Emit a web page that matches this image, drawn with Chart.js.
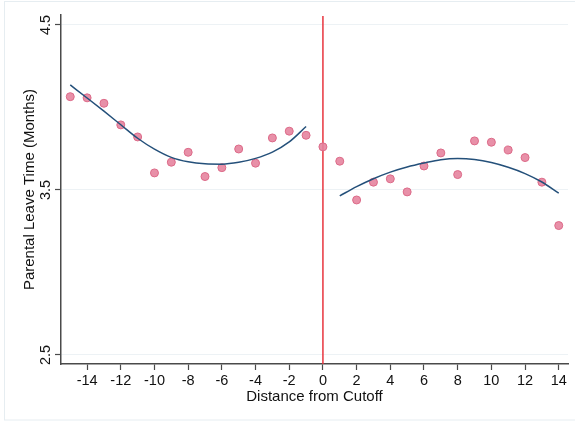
<!DOCTYPE html>
<html>
<head>
<meta charset="utf-8">
<script src="https://cdn.jsdelivr.net/npm/chart.js@4.4.1/dist/chart.umd.min.js"></script>
<style>
  html, body { margin: 0; padding: 0; background: #fff; }
  #wrap { width: 575px; height: 421px; position: relative; }
</style>
</head>
<body>
<div id="wrap"><canvas id="rdChart"></canvas></div>
<script>
// Binned means, distance -15..14
const distance = [-15, -14, -13, -12, -11, -10, -9, -8, -7, -6, -5, -4, -3, -2, -1,
                  0, 1, 2, 3, 4, 5, 6, 7, 8, 9, 10, 11, 12, 13, 14];
const leaveMeans = [4.065, 4.058, 4.025, 3.894, 3.821, 3.603, 3.668, 3.728, 3.581, 3.635,
                    3.748, 3.662, 3.815, 3.856, 3.831, 3.761, 3.674, 3.439, 3.547, 3.567,
                    3.488, 3.645, 3.724, 3.593, 3.797, 3.789, 3.742, 3.696, 3.547, 3.284];

// Fitted curves on each side of the cutoff
const leftX = [-15, -14, -13, -12, -11, -10, -9, -8, -7, -6, -5, -4, -3, -2, -1];
const leftFit = [4.136, 4.057, 3.977, 3.895, 3.813, 3.747, 3.697, 3.670, 3.658, 3.656,
                 3.667, 3.691, 3.729, 3.791, 3.884];
const rightX = [1, 2, 3, 4, 5, 6, 7, 8, 9, 10, 11, 12, 13, 14];
const rightFit = [3.464, 3.520, 3.568, 3.608, 3.639, 3.663, 3.683, 3.690, 3.684, 3.666,
                  3.637, 3.599, 3.548, 3.480];

const cutoff = [0];
const xTicks = [-14, -12, -10, -8, -6, -4, -2, 0, 2, 4, 6, 8, 10, 12, 14];
const yTicks = [2.5, 3.5, 4.5];

const toPoints = (xs, ys) => xs.map((x, i) => ({ x: x, y: ys[i] }));

const axisColor = '#4a4a4a';
const gridColor = '#edf2f5';
const fontFamily = 'Arial, "Liberation Sans", sans-serif';

// Cutoff line, y tick labels, y title and the faint frame
const extras = {
  id: 'extras',
  beforeDatasetsDraw(chart) {
    const { ctx, chartArea, scales } = chart;
    ctx.save();
    ctx.strokeStyle = '#e8343e';
    ctx.lineWidth = 1.5;
    cutoff.forEach(c => {
      const px = scales.x.getPixelForValue(c);
      ctx.beginPath();
      ctx.moveTo(px, chartArea.top + 1);
      ctx.lineTo(px, chartArea.bottom);
      ctx.stroke();
    });
    ctx.restore();
  },
  afterDraw(chart) {
    const { ctx, chartArea, scales } = chart;
    ctx.save();
    ctx.fillStyle = '#111';
    ctx.font = '14.5px ' + fontFamily;
    ctx.textAlign = 'center';
    ctx.textBaseline = 'middle';
    yTicks.forEach(v => {
      const py = scales.y.getPixelForValue(v);
      ctx.save();
      ctx.translate(46, py);
      ctx.rotate(-Math.PI / 2);
      ctx.fillText(v.toFixed(1), 0, 0);
      ctx.restore();
    });
    ctx.font = '15px ' + fontFamily;
    ctx.save();
    ctx.translate(30, (chartArea.top + chartArea.bottom) / 2);
    ctx.rotate(-Math.PI / 2);
    ctx.fillText('Parental Leave Time (Months)', 0, 0);
    ctx.restore();

    ctx.strokeStyle = '#e6edf1';
    ctx.lineWidth = 1;
    ctx.strokeRect(4.5, 1.5, 600, 418.5);
    ctx.restore();
  }
};

new Chart(document.getElementById('rdChart'), {
  type: 'scatter',
  data: {
    datasets: [
      {
        label: 'Bin means',
        data: toPoints(distance, leaveMeans),
        pointRadius: 4,
        pointBackgroundColor: 'rgba(230, 132, 158, 0.9)',
        pointBorderColor: '#dc6a88',
        pointBorderWidth: 1,
        order: 2
      },
      {
        label: 'Fit left',
        type: 'line',
        data: toPoints(leftX, leftFit),
        borderColor: '#24507a',
        borderWidth: 1.5,
        pointRadius: 0,
        cubicInterpolationMode: 'monotone',
        fill: false,
        order: 1
      },
      {
        label: 'Fit right',
        type: 'line',
        data: toPoints(rightX, rightFit),
        borderColor: '#24507a',
        borderWidth: 1.5,
        pointRadius: 0,
        cubicInterpolationMode: 'monotone',
        fill: false,
        order: 1
      }
    ]
  },
  options: {
    responsive: true,
    maintainAspectRatio: false,
    animation: false,
    layout: { padding: { left: 0, top: 15, right: 7, bottom: 15 } },
    plugins: {
      legend: { display: false },
      tooltip: { enabled: false }
    },
    scales: {
      x: {
        type: 'linear',
        min: -15.55,
        max: 14.55,
        afterBuildTicks: axis => { axis.ticks = xTicks.map(v => ({ value: v })); },
        afterFit: axis => { axis.height = 42; },
        ticks: {
          color: '#111',
          font: { family: fontFamily, size: 14.5 },
          padding: 2,
          maxRotation: 0,
          autoSkip: false
        },
        grid: {
          drawOnChartArea: false,
          drawTicks: true,
          tickLength: 6,
          tickColor: axisColor,
          tickWidth: 1.2
        },
        border: { color: axisColor, width: 1.5 },
        title: {
          display: true,
          text: 'Distance from Cutoff',
          color: '#111',
          font: { family: fontFamily, size: 15 },
          padding: { top: 0, bottom: 0 }
        }
      },
      y: {
        type: 'linear',
        min: 2.445,
        max: 4.56,
        afterBuildTicks: axis => { axis.ticks = yTicks.map(v => ({ value: v })); },
        afterFit: axis => { axis.width = 61; },
        ticks: { display: false },
        grid: {
          color: gridColor,
          lineWidth: 1,
          drawTicks: true,
          tickLength: 6,
          tickColor: axisColor,
          tickWidth: 1.2
        },
        border: { color: axisColor, width: 1.5 }
      }
    }
  },
  plugins: [extras]
});
</script>
</body>
</html>
